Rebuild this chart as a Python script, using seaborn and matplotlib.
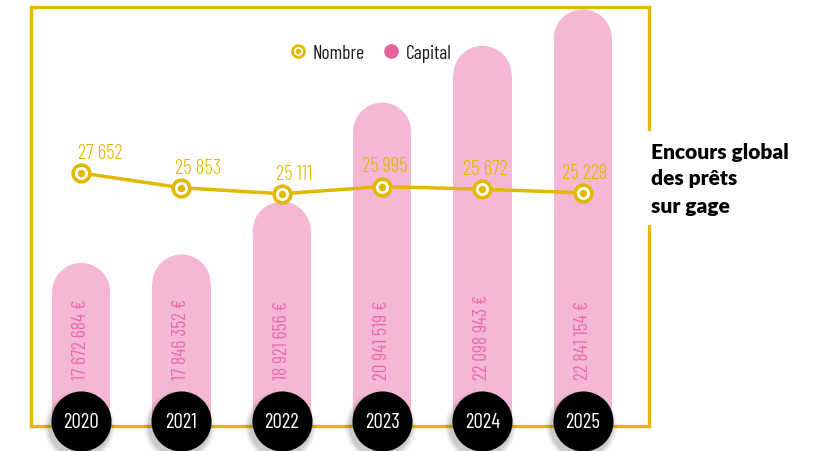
import numpy as np
import pandas as pd
import matplotlib
matplotlib.use("Agg")
import matplotlib.pyplot as plt
import seaborn as sns
from matplotlib import font_manager
from matplotlib.lines import Line2D
from matplotlib.patches import Ellipse
from matplotlib.legend_handler import HandlerTuple

# -----------------------------------------------------------------
# Données
# -----------------------------------------------------------------
YEARS = ["2020", "2021", "2022", "2023", "2024", "2025"]
CAPITAL = [17672684, 17846352, 18921656, 20941519, 22098943, 22841154]
NOMBRE = [27652, 25853, 25111, 25995, 25672, 25229]
TITLE = "Encours global\ndes prêts\nsur gage"

# couleurs
YELLOW = "#E2B800"
PINK = "#F4B8D6"
PINK_TEXT = "#EC6BA8"
PINK_DARK = "#E8609E"

# -----------------------------------------------------------------
# Polices
# -----------------------------------------------------------------
sns.set_style("white")
avail = {f.name for f in font_manager.fontManager.ttflist}


def pick(*names):
    for n in names:
        if n in avail:
            return n
    return "DejaVu Sans"


NARROW = pick("Barlow Condensed", "Roboto Condensed", "DejaVu Sans")
BOLD = pick("Lato", "Inter", "DejaVu Sans")
plt.rcParams["font.family"] = [NARROW, "DejaVu Sans"]

fmt = lambda v: f"{v:,}".replace(",", " ")

# -----------------------------------------------------------------
# Figure
# -----------------------------------------------------------------
fig = plt.figure(figsize=(8.37, 4.52), dpi=100)
ax = fig.add_axes([31 / 837, 25 / 452, 618 / 837, 419 / 452])

df = pd.DataFrame({"annee": YEARS, "capital": CAPITAL, "nombre": NOMBRE,
                   "pos": np.arange(len(YEARS))})

sns.barplot(data=df, x="annee", y="capital", ax=ax, color=PINK,
            saturation=1, width=0.58, zorder=1)
ax.set_xlim(-0.5, 5.66)
ax.set_ylim(14.35e6, 22.89e6)

# bouts arrondis des barres
bars = list(ax.patches)
for p, v in zip(bars, df["capital"]):
    x0, w = p.get_x(), p.get_width()
    half_px = (ax.transData.transform((x0 + w, 0))[0] - ax.transData.transform((x0, 0))[0]) / 2
    py = ax.transData.transform((0, 1e6))[1] - ax.transData.transform((0, 0))[1]
    ry = half_px / py * 1e6
    p.set_height(v - ry)
    p.set_linewidth(0)
    ax.add_patch(Ellipse((x0 + w / 2, v - ry), w, 2 * ry, color=PINK, lw=0, zorder=1))

# valeurs verticales dans les barres
for i, v in enumerate(df["capital"]):
    ax.text(i, 0.112, f"{fmt(v)} €", transform=ax.get_xaxis_transform(),
            rotation=90, ha="center", va="bottom", color=PINK_TEXT,
            fontsize=14, fontweight=400)

# pastilles noires des années (avec ombre légère)
trans = ax.get_xaxis_transform()
for k, a in [(2600, 0.05), (2300, 0.07), (2050, 0.09)]:
    ax.scatter(df["pos"] - 0.02, [0.0] * len(df), s=k, color="black", alpha=a,
               lw=0, transform=trans, clip_on=False, zorder=4)
ax.scatter(df["pos"], [0.012] * len(df), s=1870, color="black", lw=0,
           transform=trans, clip_on=False, zorder=5)
for i, y in enumerate(df["annee"]):
    ax.text(i, 0.010, y, transform=trans, ha="center", va="center",
            color="white", fontsize=15, zorder=6, clip_on=False)

# cadre jaune
for s in ax.spines.values():
    s.set_color(YELLOW)
    s.set_linewidth(2.4)
ax.set_xticks([])
ax.set_yticks([])
ax.set_xlabel("")
ax.set_ylabel("")

# -----------------------------------------------------------------
# Courbe du nombre
# -----------------------------------------------------------------
ax2 = ax.twinx()
sns.lineplot(data=df, x="pos", y="nombre", ax=ax2, color=YELLOW, lw=2.5,
             marker="o", markersize=12, markerfacecolor="white",
             markeredgecolor=YELLOW, markeredgewidth=2.6, zorder=3)
ax2.plot(df["pos"], df["nombre"], ls="", marker="o", ms=4.3, color=YELLOW, zorder=4)
ax2.set_ylim(-3350, 48000)
ax2.set_xlim(-0.5, 5.66)
for s in ax2.spines.values():
    s.set_visible(False)
ax2.set_yticks([])
ax2.set_xticks([])
ax2.set_xlabel("")
ax2.set_ylabel("")

LABEL_DX = [14, 12, 9, 2, 2, 1]
for i, (v, dx) in enumerate(zip(df["nombre"], LABEL_DX)):
    ax2.annotate(fmt(v), (i, v), xytext=(dx, 8), textcoords="offset points",
                 ha="center", va="bottom", color=YELLOW, fontsize=15, fontweight=300)

# légende
h_nombre = (Line2D([], [], ls="", marker="o", ms=8.5, mfc="white", mec=YELLOW, mew=2),
            Line2D([], [], ls="", marker="o", ms=3, color=YELLOW))
h_capital = Line2D([], [], ls="", marker="o", ms=9.5, color=PINK_DARK)
ax2.legend([h_nombre, h_capital], ["Nombre", "Capital"],
           handler_map={tuple: HandlerTuple(ndivide=1)},
           loc="center", bbox_to_anchor=(0.549, 0.89), ncol=2, frameon=False,
           fontsize=14, handlelength=0.9, handletextpad=0.3, columnspacing=0.9,
           labelcolor="#1a1a1a")

# titre à droite
fig.text(651 / 837, 1 - 179 / 452, TITLE, ha="left", va="center",
         fontsize=15, fontweight=800, family=BOLD, linespacing=1.5,
         color="black", zorder=10,
         bbox=dict(boxstyle="square,pad=0.5", fc="white", ec="none"))

fig.savefig("out.png", dpi=100)
